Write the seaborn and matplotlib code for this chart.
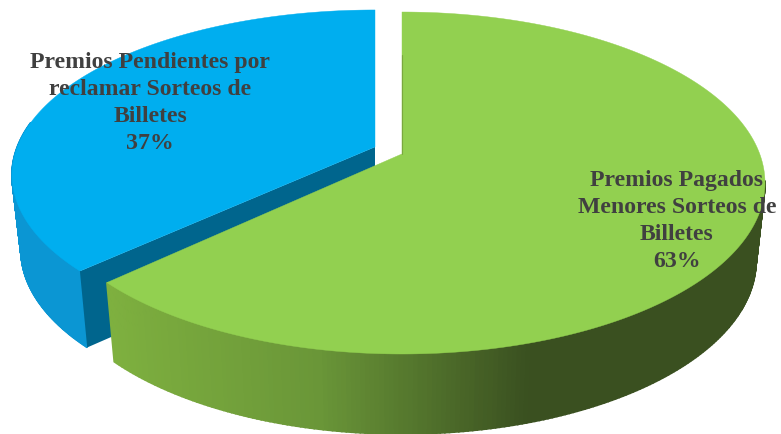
import numpy as np
import seaborn as sns
import matplotlib.pyplot as plt

# datos del grafico
etiquetas = ['Premios Pagados\nMenores Sorteos de\nBilletes\n63%',
             'Premios Pendientes por\nreclamar Sorteos de\nBilletes\n37%']
valores = [63, 37]

sns.set_theme(style='white')
plt.rcParams['font.family'] = ['Liberation Serif', 'DejaVu Serif']

# colores: cara superior, pared exterior, pared interior
verde = '#92d050'
azul = '#00aeef'
azul_pared = '#0b96d3'
azul_oscuro = '#00658d'
rampa_verde = sns.blend_palette(['#7eb03f', '#6a9638', '#3a5020'], 200)

# geometria de la pila en pixeles
CX, CY, RX, RY = 402, 184, 363, 171
CY_BASE, RX_BASE, RY_BASE = 262, 354, 173
K = -0.17  # perspectiva: el vertice queda por encima del centro de la elipse


def proyectar(r, theta, cx, cy, rx, ry):
    # theta en radianes, desde arriba y en sentido horario
    u = r * np.sin(theta)
    v = -r * np.cos(theta)
    d = 1 + K * v
    return cx + rx * u * np.sqrt(1 - K ** 2) / d, cy + ry * (v + K) / d


# la porcion azul va desplazada y un poco aplastada respecto a su vertice
DX, DY = -27, -7
ESC_Y = 0.965
YA_AZUL = proyectar(0, 0.0, CX, CY, RX, RY)[1] + DY


def mover_azul(x, y):
    return np.asarray(x) + DX, YA_AZUL + (np.asarray(y) + DY - YA_AZUL) * ESC_Y


def pared(ax, t0, t1, color=None, z=1):
    t = np.linspace(t0, t1, 200)
    x1, y1 = proyectar(1, t, CX, CY, RX, RY)
    x2, y2 = proyectar(1, t, CX, CY_BASE, RX_BASE, RY_BASE)
    if color is not None:
        x1, y1 = mover_azul(x1, y1)
        x2, y2 = mover_azul(x2, y2)
    for i in range(len(t) - 1):
        c = color
        if c is None:
            f = np.clip((x1[i] - 107) / (530 - 107), 0, 1)
            c = rampa_verde[int(f * (len(rampa_verde) - 1))]
        ax.fill([x1[i], x1[i + 1], x2[i + 1], x2[i]],
                [y1[i], y1[i + 1], y2[i + 1], y2[i]],
                color=c, lw=1.2, zorder=z)


angulo = 2 * np.pi * np.array(valores) / sum(valores)
fin_verde = angulo[0]

fig, ax = plt.subplots(figsize=(7.81, 4.35), dpi=100)
fig.subplots_adjust(0, 0, 1, 1)
ax.set_xlim(0, 781)
ax.set_ylim(435, 0)
ax.axis('off')

# vertice y borde de corte, arriba y en la base
xa, ya = proyectar(0, 0.0, CX, CY, RX, RY)
xa2, ya2 = proyectar(0, 0.0, CX, CY_BASE, RX_BASE, RY_BASE)
xb, yb = proyectar(1, fin_verde, CX, CY, RX, RY)
xb2, yb2 = proyectar(1, fin_verde, CX, CY_BASE, RX_BASE, RY_BASE)

# porcion azul (separada de la pila); solo la parte visible de la pared
pared(ax, fin_verde, 1.55 * np.pi, color=azul_pared, z=1)
px, py = mover_azul([xa, xb, xb2, xa2], [ya, yb, yb2, ya2])
ax.fill(px, py, color=azul_oscuro, lw=0, zorder=2)
t = np.linspace(fin_verde, 2 * np.pi, 300)
x, y = proyectar(1, t, CX, CY, RX, RY)
px, py = mover_azul(np.r_[xa, x], np.r_[ya, y])
ax.fill(px, py, color=azul, lw=0.3, zorder=3)

# porcion verde
pared(ax, 0.55 * np.pi, fin_verde, z=4)
t = np.linspace(0, fin_verde, 400)
x, y = proyectar(1, t, CX, CY, RX, RY)
ax.fill(np.r_[xa, x], np.r_[ya, y], color=verde, lw=0.3, zorder=5)
# filo interior de la porcion verde
xf, yf = proyectar(np.array([0, 0.66]), 0.0, CX, CY, RX, RY)
ax.plot(xf - 0.3, yf, color='#7aa83f', lw=0.8, zorder=6)

ax.text(677, 221, etiquetas[0], ha='center', va='center', fontsize=17.1,
        fontweight='bold', color='#404040', linespacing=1.37, zorder=7)
ax.text(150, 103, etiquetas[1], ha='center', va='center', fontsize=17.1,
        fontweight='bold', color='#404040', linespacing=1.37, zorder=7)

fig.savefig('out.png', dpi=100)
